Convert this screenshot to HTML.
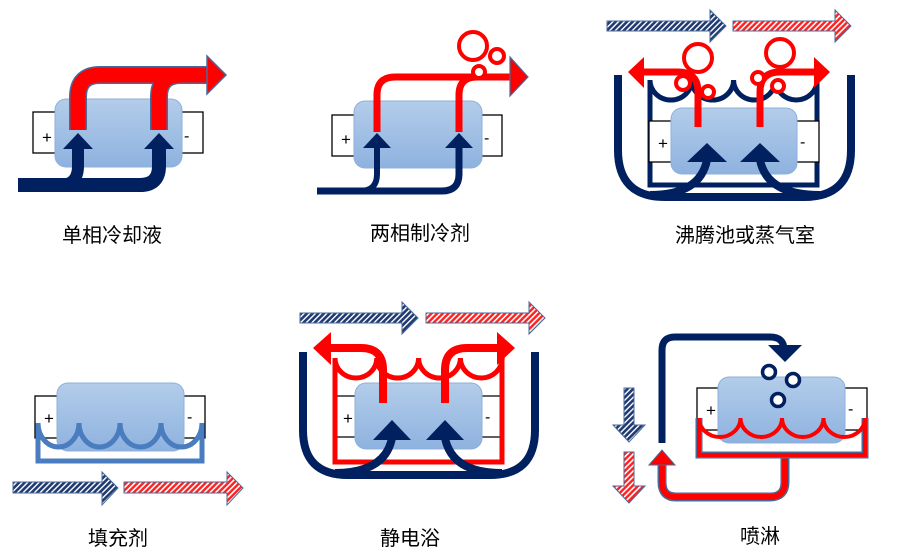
<!DOCTYPE html>
<html><head><meta charset="utf-8">
<style>html,body{margin:0;padding:0;background:#fff;}svg{display:block}
text{font-family:"Liberation Sans","Noto Sans CJK SC",sans-serif;}</style></head>
<body>
<svg width="897" height="557" viewBox="0 0 897 557" xmlns="http://www.w3.org/2000/svg">
<defs>
<linearGradient id="bat" x1="0" y1="0" x2="0" y2="1"><stop offset="0" stop-color="#b3cdea"/><stop offset="1" stop-color="#8eb2df"/></linearGradient>
<pattern id="hn" width="4" height="4" patternUnits="userSpaceOnUse" patternTransform="rotate(45)"><rect width="4" height="4" fill="#1f3a70"/><rect width="1.4" height="4" fill="#fff"/></pattern>
<pattern id="hr" width="4" height="4" patternUnits="userSpaceOnUse" patternTransform="rotate(45)"><rect width="4" height="4" fill="#ff2020"/><rect width="1.6" height="4" fill="#fff"/></pattern>
</defs>

<!-- ============ Panel 1 ============ -->
<rect x="33" y="112" width="170" height="41" fill="#fff" stroke="#000" stroke-width="1.3"/>
<rect x="55" y="99" width="127" height="68" rx="11" fill="url(#bat)" stroke="#8eb0da"/>
<text x="42" y="143" font-size="17">+</text><text x="184" y="141" font-size="16">-</text>
<g fill="none" stroke-linejoin="round">
<path d="M78,130 V97 Q78,75 100,75 H209" stroke="#4a6a9a" stroke-width="18"/>
<path d="M159,130 V97 Q159,75 181,75 H209" stroke="#4a6a9a" stroke-width="18"/>
<path d="M78,130 V97 Q78,75 100,75 H209" stroke="#ff0000" stroke-width="15"/>
<path d="M159,130 V97 Q159,75 181,75 H209" stroke="#ff0000" stroke-width="15"/>
<path d="M18,185 H140 Q159,185 159,166 V148" stroke="#002060" stroke-width="14"/>
<path d="M60,185 Q78,185 78,166 V148" stroke="#002060" stroke-width="12"/>
</g>
<polygon points="207,56 226,75 207,94" fill="#ff0000" stroke="#4a6a9a" stroke-width="1.5"/>
<polygon points="63,149 78,133 93,149" fill="#002060"/>
<polygon points="144,149 159,133 174,149" fill="#002060"/>
<text x="62" y="242" font-size="20">单相冷却液</text>

<!-- ============ Panel 2 ============ -->
<rect x="332" y="115" width="170" height="41" fill="#fff" stroke="#000" stroke-width="1.3"/>
<rect x="354" y="101" width="128" height="67" rx="11" fill="url(#bat)" stroke="#8eb0da"/>
<text x="341" y="145" font-size="17">+</text><text x="484" y="143" font-size="16">-</text>
<g fill="none">
<path d="M377,132 V95 Q377,77 395,77 H512" stroke="#ff0000" stroke-width="7"/>
<path d="M459,132 V95 Q459,77 477,77 H512" stroke="#ff0000" stroke-width="7"/>
<path d="M317,191 H442 Q459,191 459,174 V146" stroke="#002060" stroke-width="7"/>
<path d="M360,191 Q377,191 377,174 V146" stroke="#002060" stroke-width="6"/>
</g>
<polygon points="510,57 528,77 510,96" fill="#ff0000" stroke="#4a6a9a" stroke-width="1.2"/>
<polygon points="363,148 377,133 391,148" fill="#002060"/>
<polygon points="445,148 459,133 473,148" fill="#002060"/>
<g fill="#fff" stroke="#ff0000" stroke-width="4">
<circle cx="473" cy="46" r="14"/><circle cx="497" cy="56" r="7"/><circle cx="479" cy="72" r="6"/></g>
<text x="370" y="240" font-size="20">两相制冷剂</text>

<!-- ============ Panel 3 ============ -->
<polygon points="607,21 710,21 710,10 726,26 710,42 710,31 607,31" fill="url(#hn)" stroke="#4a6a9a" stroke-width="1"/>
<polygon points="733,21 835,21 835,10 851,26 835,42 835,31 733,31" fill="url(#hr)" stroke="#4a6a9a" stroke-width="1"/>
<path d="M618,75 V150 Q618,197 665,197 H804 Q851,197 851,150 V75" fill="none" stroke="#002060" stroke-width="8"/>
<path d="M650,80 V185 H817 V80" fill="none" stroke="#002060" stroke-width="5"/>
<path d="M650,80 a20.9,20 0 0 0 41.8,0 a20.9,20 0 0 0 41.8,0 a20.9,20 0 0 0 41.8,0 a20.9,20 0 0 0 41.8,0" fill="none" stroke="#002060" stroke-width="5"/>
<rect x="649" y="121" width="170" height="41" fill="#fff" stroke="#000" stroke-width="1.3"/>
<rect x="671" y="108" width="126" height="66" rx="11" fill="url(#bat)" stroke="#8eb0da"/>
<text x="658" y="149" font-size="17">+</text><text x="800" y="147" font-size="16">-</text>
<g fill="none" stroke="#ff0000" stroke-width="7">
<path d="M698,127 V92 Q698,72 678,72 H642"/>
<path d="M760,127 V92 Q760,72 780,72 H816"/>
</g>
<polygon points="644,57 628,72 644,88" fill="#ff0000"/>
<polygon points="814,57 830,72 814,88" fill="#ff0000"/>
<g fill="none" stroke="#002060" stroke-width="8">
<path d="M650,195 Q700,195 707,160"/>
<path d="M820,195 Q767,195 760,160"/>
</g>
<polygon points="687,162 707,143 727,162" fill="#002060"/>
<polygon points="740,162 760,143 780,162" fill="#002060"/>
<g fill="#fff" stroke="#ff0000" stroke-width="4">
<circle cx="698" cy="58" r="14"/><circle cx="683" cy="83" r="7"/><circle cx="708" cy="92" r="6"/>
<circle cx="780" cy="53" r="14"/><circle cx="758" cy="78" r="6"/><circle cx="778" cy="86" r="6"/></g>
<text x="675" y="242" font-size="20">沸腾池或蒸气室</text>

<!-- ============ Panel 4 ============ -->
<rect x="35" y="396" width="170" height="42" fill="#fff" stroke="#000" stroke-width="1.3"/>
<text x="44" y="424" font-size="17">+</text><text x="187" y="422" font-size="16">-</text>
<rect x="57" y="383" width="127" height="68" rx="11" fill="url(#bat)" stroke="#8eb0da"/>
<path d="M38,423 V461 H202 V423" fill="none" stroke="#4a7dbf" stroke-width="5"/>
<path d="M38,423 a20.5,24 0 0 0 41,0 a20.5,24 0 0 0 41,0 a20.5,24 0 0 0 41,0 a20.5,24 0 0 0 41,0" fill="none" stroke="#4a7dbf" stroke-width="5"/>
<polygon points="13,482 102,482 102,472 118,488 102,505 102,493 13,493" fill="url(#hn)" stroke="#4a6a9a" stroke-width="1"/>
<polygon points="124,482 227,482 227,472 243,488 227,505 227,493 124,493" fill="url(#hr)" stroke="#4a6a9a" stroke-width="1"/>
<text x="88" y="545" font-size="20">填充剂</text>

<!-- ============ Panel 5 ============ -->
<polygon points="300,313 402,313 402,302 418,318 402,334 402,323 300,323" fill="url(#hn)" stroke="#4a6a9a" stroke-width="1"/>
<polygon points="426,313 529,313 529,302 545,318 529,334 529,323 426,323" fill="url(#hr)" stroke="#4a6a9a" stroke-width="1"/>
<path d="M303,352 V430 Q303,475 348,475 H490 Q535,475 535,430 V352" fill="none" stroke="#002060" stroke-width="8"/>
<line x1="335" y1="396" x2="502" y2="396" stroke="#000" stroke-width="1.3"/>
<line x1="335" y1="437" x2="502" y2="437" stroke="#000" stroke-width="1.3"/>
<path d="M335,358 V462 H502 V358" fill="none" stroke="#ff0000" stroke-width="5"/>
<path d="M335,358 a20.9,20 0 0 0 41.8,0 a20.9,20 0 0 0 41.8,0 a20.9,20 0 0 0 41.8,0 a20.9,20 0 0 0 41.8,0" fill="none" stroke="#ff0000" stroke-width="5"/>
<text x="343" y="424" font-size="17">+</text><text x="485" y="422" font-size="16">-</text>
<rect x="355" y="383" width="127" height="66" rx="11" fill="url(#bat)" stroke="#8eb0da"/>
<g fill="none" stroke="#ff0000" stroke-width="8">
<path d="M383,403 V370 Q383,348 361,348 H329"/>
<path d="M445,403 V370 Q445,348 467,348 H499"/>
</g>
<polygon points="331,332 313,348 331,365" fill="#ff0000"/>
<polygon points="497,332 515,348 497,365" fill="#ff0000"/>
<g fill="none" stroke="#002060" stroke-width="8">
<path d="M335,473 Q385,473 392,438"/>
<path d="M502,473 Q452,473 445,438"/>
</g>
<polygon points="373,440 392,420 411,440" fill="#002060"/>
<polygon points="426,440 445,420 464,440" fill="#002060"/>
<text x="380" y="545" font-size="20">静电浴</text>

<!-- ============ Panel 6 ============ -->
<polygon points="624,388 634,388 634,425 645,425 629,442 613,425 624,425" fill="url(#hn)" stroke="#4a6a9a" stroke-width="1"/>
<polygon points="624,452 634,452 634,486 645,486 629,503 613,486 624,486" fill="url(#hr)" stroke="#4a6a9a" stroke-width="1"/>
<path d="M662,443 V350 Q662,337 675,337 H770 Q784,337 784,350 V346" fill="none" stroke="#002060" stroke-width="7"/>
<polygon points="768,345 802,345 785,362" fill="#002060"/>
<path d="M785,453 V482 Q785,497 770,497 H676 Q662,497 662,482 V464" fill="none" stroke="#4a6a9a" stroke-width="9"/>
<path d="M785,453 V482 Q785,497 770,497 H676 Q662,497 662,482 V464" fill="none" stroke="#ff0000" stroke-width="6"/>
<polygon points="649,465 662,450 675,465" fill="#ff0000" stroke="#4a6a9a" stroke-width="1"/>
<rect x="697" y="388" width="170" height="42" fill="#fff" stroke="#000" stroke-width="1.3"/>
<text x="706" y="416" font-size="17">+</text><text x="848" y="414" font-size="16">-</text>
<rect x="718" y="377" width="127" height="66" rx="11" fill="url(#bat)" stroke="#8eb0da"/>
<path d="M699,418 V455 H865 V418" fill="none" stroke="#4a6a9a" stroke-width="7"/>
<path d="M699,418 V455 H865 V418" fill="none" stroke="#ff0000" stroke-width="4"/>
<path d="M699,418 a20.75,19 0 0 0 41.5,0 a20.75,19 0 0 0 41.5,0 a20.75,19 0 0 0 41.5,0 a20.75,19 0 0 0 41.5,0" fill="none" stroke="#ff0000" stroke-width="4"/>
<g fill="#fff" stroke="#002060" stroke-width="3.5">
<circle cx="769" cy="372" r="6.5"/><circle cx="793" cy="380" r="6.5"/><circle cx="778" cy="400" r="6.5"/></g>
<text x="740" y="543" font-size="20">喷淋</text>
</svg>
</body></html>
